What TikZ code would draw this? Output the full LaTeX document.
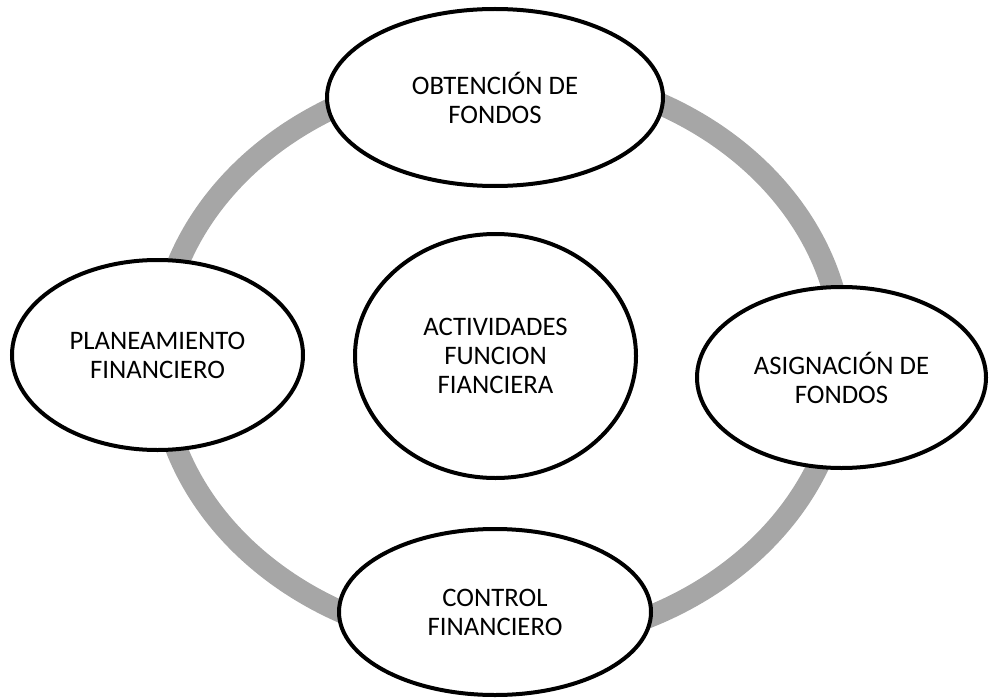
\documentclass[tikz,border=0pt]{standalone}
\usepackage{fontspec}
\setmainfont{Carlito}
\usetikzlibrary{shapes.geometric}
\definecolor{ringgray}{RGB}{166,166,166}
\tikzset{
  bubble/.style={ellipse, draw=black, line width=4pt, fill=white, inner sep=0pt,
    align=center, font=\fontsize{26.7}{29}\selectfont},
  ringline/.style={draw=ringgray, line width=22pt}
}
\begin{document}
\begin{tikzpicture}[x=1pt,y=-1pt]
\useasboundingbox (0,0) rectangle (990,698);
\coordinate (ringc) at (501,358);
\draw[ringline] (ringc) ellipse [x radius=342pt, y radius=287pt];
\node[bubble, minimum width=336pt, minimum height=177pt] (obt) at (495,97.5) {OBTENCIÓN DE\\FONDOS};
\node[bubble, minimum width=291pt, minimum height=190pt] (plan) at (157.5,355) {PLANEAMIENTO\\FINANCIERO};
\node[bubble, minimum width=289pt, minimum height=181pt] (asig) at (841.5,377.5) {ASIGNACIÓN DE\\FONDOS};
\node[bubble, minimum width=312pt, minimum height=166pt] (ctrl) at (495,612) {CONTROL\\FINANCIERO};
\node[bubble, minimum width=281pt, minimum height=244pt] (act) at (495.5,356) {ACTIVIDADES\\FUNCION\\FIANCIERA};
\end{tikzpicture}
\end{document}
